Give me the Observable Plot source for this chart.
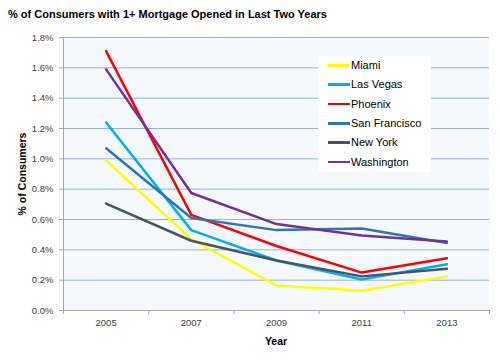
<!DOCTYPE html>
<html><head><meta charset="utf-8">
<script src="https://cdn.jsdelivr.net/npm/d3@7"></script>
<script src="https://cdn.jsdelivr.net/npm/@observablehq/plot@0.6"></script>
<style>
body{margin:0;background:#fff;font-family:"Liberation Sans",Arial,sans-serif;}
#wrap{position:relative;width:500px;height:362px;}
#wrap svg{position:absolute;left:0;top:0;}
#title{position:absolute;left:8px;top:8px;font-weight:bold;font-size:11px;color:#000;white-space:nowrap;}
#ylab{position:absolute;left:22px;top:173.5px;transform:translate(-50%,-50%) rotate(-90deg);font-weight:bold;font-size:10.5px;white-space:nowrap;color:#000;}
#xlab{position:absolute;left:276px;top:335px;transform:translateX(-50%);font-weight:bold;font-size:10.5px;color:#000;}
#legend{position:absolute;left:318px;top:56px;width:113px;height:116px;background:#fff;}
.item{position:absolute;left:0;height:14px;width:113px;}
.sw{position:absolute;left:10px;top:6px;width:22px;height:2.5px;}
.lt{position:absolute;left:33px;top:0;font-size:11px;line-height:14px;color:#000;white-space:nowrap;}
</style>
</head><body>
<div id="wrap">
  <div id="title">% of Consumers with 1+ Mortgage Opened in Last Two Years</div>
</div>
<script>
const years = [2005, 2007, 2009, 2011, 2013];
const cities = ["Miami", "Las Vegas", "Phoenix", "San Francisco", "New York", "Washington"];
const cityColors = ["#FFFF00", "#00B0F0", "#FF0000", "#2E75B6", "#44546A", "#7030A0"];
const miami        = [0.99, 0.47, 0.165, 0.13, 0.225];
const lasVegas     = [1.24, 0.53, 0.33, 0.205, 0.305];
const phoenix      = [1.71, 0.63, 0.425, 0.25, 0.345];
const sanFrancisco = [1.07, 0.61, 0.53, 0.54, 0.445];
const newYork      = [0.705, 0.46, 0.33, 0.225, 0.275];
const washington   = [1.59, 0.775, 0.57, 0.495, 0.455];
const yTicks = [0, 0.2, 0.4, 0.6, 0.8, 1.0, 1.2, 1.4, 1.6, 1.8];
const xBoundaries = [2004, 2006, 2008, 2010, 2012, 2014];

const series = [miami, lasVegas, phoenix, sanFrancisco, newYork, washington];
const rows = [];
cities.forEach((c, i) => years.forEach((y, j) => rows.push({city: c, year: y, value: series[i][j]})));

const chart = Plot.plot({
  width: 500, height: 362,
  marginTop: 37, marginBottom: 52, marginLeft: 63, marginRight: 11,
  style: {fontFamily: "'Liberation Sans', Arial, sans-serif", background: "transparent"},
  x: {type: "linear", domain: [2004, 2014]},
  y: {domain: [0, 1.8]},
  color: {domain: cities, range: cityColors},
  marks: [
    Plot.frame({fill: "#f5f9fd", stroke: "none"}),
    Plot.gridY(yTicks.filter(d => d > 0), {stroke: "#95b3d7", strokeOpacity: 1, strokeWidth: 1}),
    Plot.ruleX([2004], {stroke: "#a6a6a6"}),
    Plot.ruleY([0], {stroke: "#a6a6a6"}),
    Plot.axisY(yTicks, {tickSize: 4, tickPadding: 6, stroke: "#a6a6a6", tickFormat: d => d.toFixed(1) + "%", fontSize: 9.5, color: "#404040", label: null}),
    Plot.axisX(xBoundaries, {tickSize: 4, stroke: "#a6a6a6", tickFormat: () => "", label: null}),
    Plot.axisX(years, {tickSize: 0, tickPadding: 9, tickFormat: d => String(d), fontSize: 9.5, color: "#404040", label: null}),
    Plot.line(rows, {x: "year", y: "value", z: "city", stroke: "city", strokeWidth: 2.5, strokeLinejoin: "round"})
  ]
});
chart.querySelectorAll('g[aria-label="y-axis tick label"] text, g[aria-label="x-axis tick label"] text').forEach(t => t.setAttribute("fill", "#404040"));
const wrap = document.getElementById("wrap");
wrap.appendChild(chart);

const yl = document.createElement("div"); yl.id = "ylab"; yl.textContent = "% of Consumers"; wrap.appendChild(yl);
const xl = document.createElement("div"); xl.id = "xlab"; xl.textContent = "Year"; wrap.appendChild(xl);

const leg = document.createElement("div"); leg.id = "legend";
const rowY = [65, 84.3, 103.7, 123, 142.3, 161.7];
cities.forEach((c, i) => {
  const it = document.createElement("div"); it.className = "item"; it.style.top = (rowY[i] - 56 - 7) + "px";
  const sw = document.createElement("div"); sw.className = "sw"; sw.style.background = cityColors[i];
  const lt = document.createElement("div"); lt.className = "lt"; lt.textContent = c;
  it.appendChild(sw); it.appendChild(lt); leg.appendChild(it);
});
wrap.appendChild(leg);
</script>
</body></html>
